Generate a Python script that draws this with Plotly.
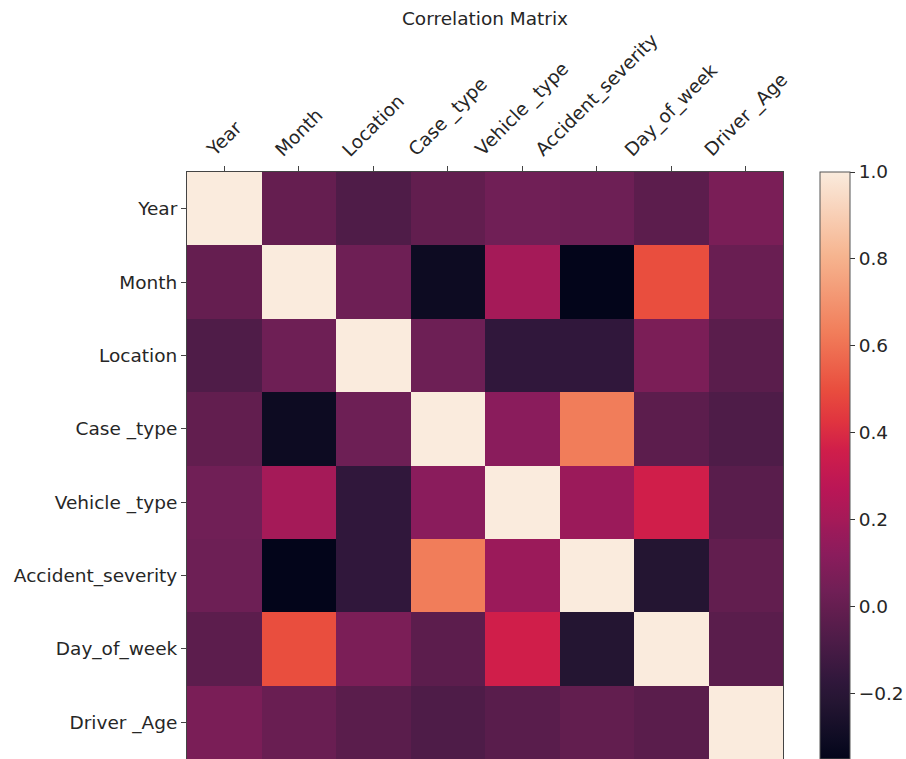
import plotly.graph_objects as go

# Feature names of the accident dataset
features = ["Year", "Month", "Location", "Case _type", "Vehicle _type",
            "Accident_severity", "Day_of_week", "Driver _Age"]

# Pairwise correlation coefficients, one list per row
year_row = [1.00, 0.00, -0.07, -0.01, 0.036, 0.027, -0.03, 0.067]
month_row = [0.00, 1.00, 0.03, -0.31, 0.20, -0.35, 0.50, 0.013]
location_row = [-0.07, 0.03, 1.00, 0.027, -0.17, -0.17, 0.07, -0.035]
case_type_row = [-0.01, -0.31, 0.027, 1.00, 0.118, 0.63, -0.03, -0.075]
vehicle_type_row = [0.036, 0.20, -0.17, 0.118, 1.00, 0.173, 0.36, -0.04]
severity_row = [0.027, -0.35, -0.17, 0.63, 0.173, 1.00, -0.22, -0.01]
day_of_week_row = [-0.03, 0.50, 0.07, -0.03, 0.36, -0.22, 1.00, -0.035]
driver_age_row = [0.067, 0.013, -0.035, -0.075, -0.04, -0.01, -0.035, 1.00]

corr = [year_row, month_row, location_row, case_type_row,
        vehicle_type_row, severity_row, day_of_week_row, driver_age_row]

colorbar_ticks = [-0.2, 0.0, 0.2, 0.4, 0.6, 0.8, 1.0]

# "rocket" sequential palette, sampled along its length
rocket = [
    [0.000, "#03051A"],
    [0.030, "#0D0B22"],
    [0.096, "#241532"],
    [0.133, "#30173B"],
    [0.204, "#4E1C48"],
    [0.233, "#5A1D4C"],
    [0.259, "#651E50"],
    [0.286, "#701F56"],
    [0.309, "#7A1E57"],
    [0.347, "#8A1C5C"],
    [0.388, "#9B1A5A"],
    [0.407, "#A51A58"],
    [0.460, "#BA1656"],
    [0.526, "#D01E4A"],
    [0.575, "#E0343F"],
    [0.630, "#E94E3E"],
    [0.726, "#F17D5A"],
    [0.857, "#F6B48F"],
    [1.000, "#FAEBDD"],
]

TEXT_COLOR = "#262626"
LABEL_SIZE = 18.5

zmin = min(min(r) for r in corr)
zmax = max(max(r) for r in corr)
n = len(features)

fig = go.Figure(go.Heatmap(
    z=corr,
    x=features,
    y=features,
    colorscale=rocket,
    zmin=zmin,
    zmax=zmax,
    showscale=True,
    colorbar=dict(
        x=1.062, xanchor="left", xpad=0,
        y=0.5, yanchor="middle", len=1.0, lenmode="fraction", ypad=0,
        thickness=30,
        outlinewidth=1, outlinecolor="#555555",
        tickvals=colorbar_ticks,
        tickformat=".1f",
        ticks="outside", ticklen=5, tickcolor="#333333",
        tickfont=dict(size=LABEL_SIZE, color=TEXT_COLOR),
    ),
    hoverongaps=False,
))

axis_common = dict(
    showgrid=False, zeroline=False,
    showline=True, linecolor="#444444", linewidth=1, mirror=True,
    ticks="outside", ticklen=5, tickcolor="#444444",
)

# Top axis: tick marks only; the rotated names are centred over each column below
fig.update_xaxes(side="top", showticklabels=False,
                 range=[-0.5, n - 0.5], autorange=False, **axis_common)
fig.update_yaxes(range=[n - 0.5, -0.5], autorange=False,
                 tickfont=dict(size=LABEL_SIZE, color=TEXT_COLOR),
                 **axis_common)

for name in features:
    fig.add_annotation(
        x=name, xref="x", y=1, yref="paper",
        text=name, textangle=-45, showarrow=False,
        xanchor="center", yanchor="bottom", yshift=10, borderpad=0,
        font=dict(size=LABEL_SIZE, color=TEXT_COLOR),
    )

fig.update_layout(
    width=906, height=759,
    margin=dict(l=187, r=123, t=172, b=0),
    paper_bgcolor="white",
    plot_bgcolor="white",
    font=dict(family="DejaVu Sans", color=TEXT_COLOR),
    title=dict(
        text="Correlation Matrix",
        x=(187 + 783) / 2 / 906, xanchor="center", xref="container",
        y=1 - 19 / 759, yanchor="middle", yref="container",
        font=dict(size=LABEL_SIZE, color=TEXT_COLOR),
    ),
)

fig.write_html("out.html")
